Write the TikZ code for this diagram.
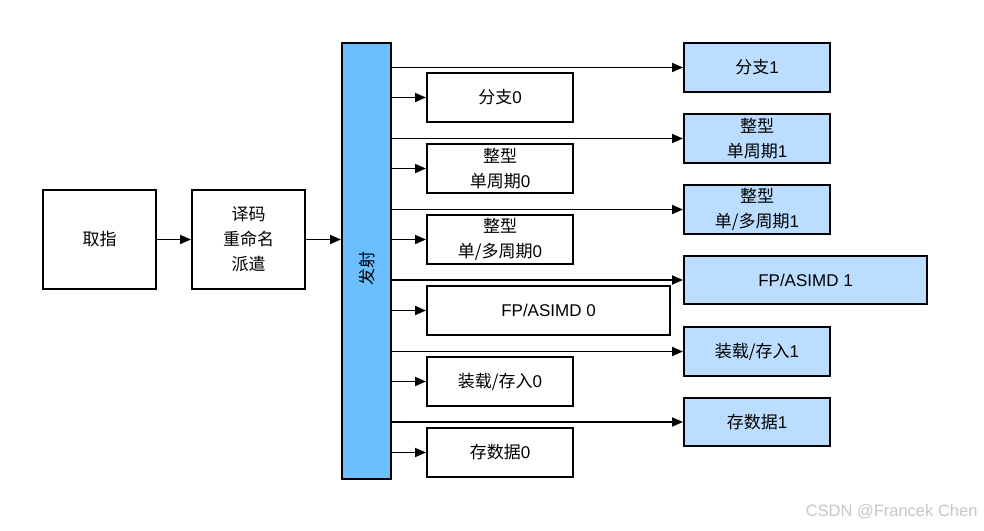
\documentclass[tikz,border=0pt]{standalone}
\usepackage{fontspec}
\setmainfont{Liberation Sans}
\newfontfamily\cjk{Noto Sans CJK SC}
\usetikzlibrary{arrows.meta}
\definecolor{issueblue}{HTML}{6BBFFF}
\definecolor{unitblue}{HTML}{BBDDFF}
\tikzset{
  box/.style={draw=black, line width=2pt, inner sep=0pt, align=center,
    font=\fontsize{17}{25}\selectfont},
  unitA/.style={box, fill=white},
  unitB/.style={box, fill=unitblue},
  arr/.style={line width=1.8pt, -{Triangle[length=11pt,width=9pt]}},
}
\begin{document}
\begin{tikzpicture}[x=1pt,y=-1pt]
\useasboundingbox[fill=white] (0,0) rectangle (984,530);

% fetch and decode
\node[box, minimum width=113pt, minimum height=99pt] (fetch) at (99.5,239.5) {{\cjk 取指}};
\node[box, minimum width=113pt, minimum height=99pt] (dec) at (248.5,239.5) {{\cjk 译码}\\{\cjk 重命名}\\{\cjk 派遣}};
\node[box, fill=issueblue, minimum width=49pt, minimum height=436pt] (iss) at (366.5,261) {};
\node[rotate=90, font=\fontsize{17}{20}\selectfont] (isst) at (367,268) {{\cjk 发射}};

\draw[arr] (fetch.east) -- (dec.west);
\draw[arr] (dec.east) -- (dec.east -| iss.west);

% left column units
\node[unitA, minimum width=146pt, minimum height=49pt] (b0) at (500,97.5) {{\cjk 分支}0};
\node[unitA, minimum width=146pt, minimum height=49pt] (i0) at (500,168.5) {{\cjk 整型}\\{\cjk 单周期}0};
\node[unitA, minimum width=146pt, minimum height=49pt] (m0) at (500,239.5) {{\cjk 整型}\\{\cjk 单/多周期}0};
\node[unitA, minimum width=243pt, minimum height=49pt] (f0) at (548.5,310.5) {FP/ASIMD 0};
\node[unitA, minimum width=146pt, minimum height=49pt] (l0) at (500,381.5) {{\cjk 装载/存入}0};
\node[unitA, minimum width=146pt, minimum height=49pt] (s0) at (500,452.5) {{\cjk 存数据}0};

% right column units
\node[unitB, minimum width=146pt, minimum height=49pt] (b1) at (757,67.5) {{\cjk 分支}1};
\node[unitB, minimum width=146pt, minimum height=49pt] (i1) at (757,138.5) {{\cjk 整型}\\{\cjk 单周期}1};
\node[unitB, minimum width=146pt, minimum height=49pt] (m1) at (757,209.5) {{\cjk 整型}\\{\cjk 单/多周期}1};
\node[unitB, minimum width=243pt, minimum height=48pt] (f1) at (805.5,280) {FP/ASIMD 1};
\node[unitB, minimum width=146pt, minimum height=49pt] (l1) at (757,351.5) {{\cjk 装载/存入}1};
\node[unitB, minimum width=146pt, minimum height=48pt] (s1) at (757,422) {{\cjk 存数据}1};

% connectors
\foreach \n in {b0,i0,m0,f0,l0,s0,b1,i1,m1,f1,l1,s1}{
  \draw[arr] (\n.west -| iss.east) -- (\n.west);
}

% watermark
\node[text=black!22, font=\fontsize{16.5}{16.5}\selectfont, anchor=east] (wm) at (981,512) {CSDN @Francek Chen};
\end{tikzpicture}
\end{document}
